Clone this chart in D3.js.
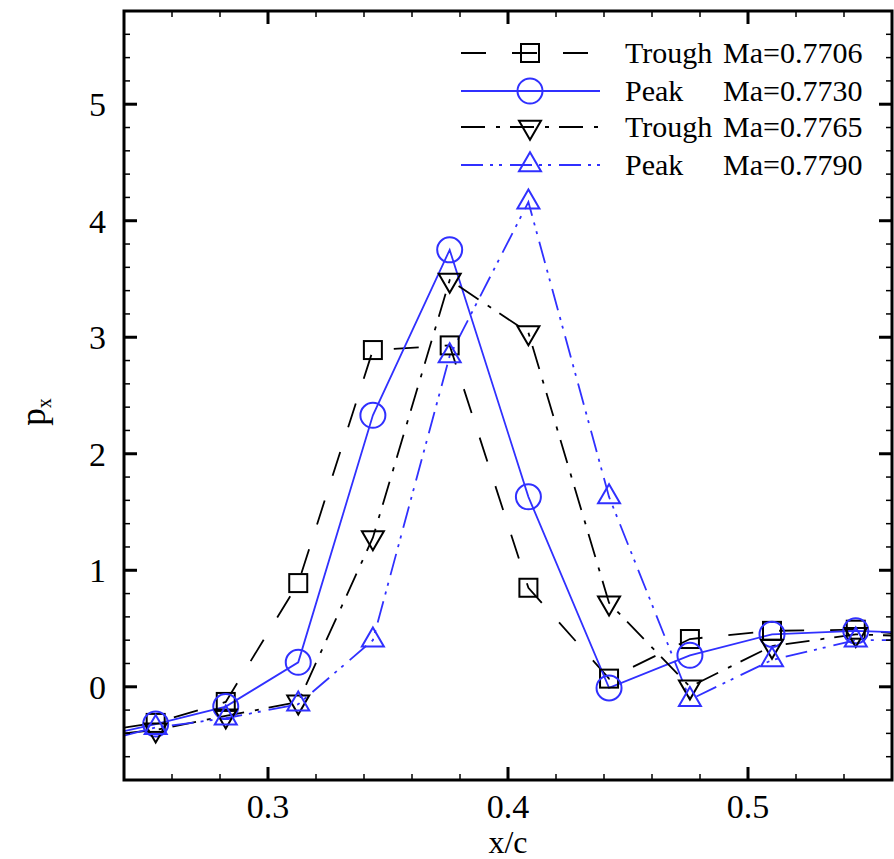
<!DOCTYPE html>
<html><head><meta charset="utf-8">
<script src="https://cdn.jsdelivr.net/npm/d3@7"></script>
<style>body{margin:0;background:#fff} svg text{font-family:"Liberation Serif","DejaVu Serif","Times New Roman",Times,serif;}</style>
</head><body>
<svg id="chart" width="894" height="859"></svg>
<script>
// ---- data ----
const xMarkers = [0.2532, 0.2824, 0.3126, 0.3437, 0.3757, 0.4085, 0.4421, 0.4758, 0.5100, 0.5449];
const trough7706 = [-0.31, -0.13, 0.89, 2.89, 2.93, 0.85, 0.07, 0.41, 0.48, 0.49];
const peak7730   = [-0.32, -0.17, 0.21, 2.33, 3.75, 1.63, -0.01, 0.27, 0.45, 0.48];
const trough7765 = [-0.37, -0.25, -0.13, 1.28, 3.49, 3.04, 0.72, 0.00, 0.35, 0.45];
const peak7790   = [-0.35, -0.27, -0.15, 0.40, 2.84, 4.16, 1.63, -0.11, 0.23, 0.40];
// line end values at the plot edges (x = 0.24 and x = 0.56)
const edgeX = [0.24, 0.56];
const edge7706 = [-0.35, 0.46];
const edge7730 = [-0.38, 0.47];
const edge7765 = [-0.40, 0.44];
const edge7790 = [-0.42, 0.40];
const xTicks = [0.3, 0.4, 0.5];
const yTicks = [0, 1, 2, 3, 4, 5];
const seriesNames = ["Trough", "Peak", "Trough", "Peak"];
const seriesMa = ["Ma=0.7706", "Ma=0.7730", "Ma=0.7765", "Ma=0.7790"];

const BLUE = "#3030ff";
const series = [
  {vals: trough7706, edge: edge7706, color: "#000", dash: "25,26", sym: "square"},
  {vals: peak7730,   edge: edge7730, color: BLUE,   dash: null,    sym: "circle"},
  {vals: trough7765, edge: edge7765, color: "#000", dash: "24,11,4,10", sym: "tdown"},
  {vals: peak7790,   edge: edge7790, color: BLUE,   dash: "22,7,3,6,3,8", sym: "tup"}
];

const svg = d3.select("#chart");
const L = 124, R = 892, T = 11, B = 780;
const x = d3.scaleLinear().domain([0.24, 0.56]).range([L, R]);
const y = d3.scaleLinear().domain([-0.8, 5.8]).range([B, T]);

svg.append("defs").append("clipPath").attr("id", "clip")
  .append("rect").attr("x", L).attr("y", T).attr("width", R - L).attr("height", B - T);

// lines
const line = d3.line().x(d => x(d[0])).y(d => y(d[1]));
const gLines = svg.append("g").attr("clip-path", "url(#clip)");
series.forEach(s => {
  const pts = [[edgeX[0], s.edge[0]], ...xMarkers.map((xv, i) => [xv, s.vals[i]]), [edgeX[1], s.edge[1]]];
  gLines.append("path").attr("d", line(pts)).attr("fill", "none")
    .attr("stroke", s.color).attr("stroke-width", 1.8)
    .attr("stroke-dasharray", s.dash);
});

function drawSym(g, sym, cx, cy, color) {
  if (sym === "square") {
    g.append("rect").attr("x", cx - 9).attr("y", cy - 9).attr("width", 18).attr("height", 18)
      .attr("fill", "none").attr("stroke", color).attr("stroke-width", 2);
  } else if (sym === "circle") {
    g.append("circle").attr("cx", cx).attr("cy", cy).attr("r", 12.5)
      .attr("fill", "none").attr("stroke", color).attr("stroke-width", 2);
  } else if (sym === "tdown") {
    const h = 19, w = 22;
    g.append("path").attr("d", `M${cx - w/2},${cy - h/3}L${cx + w/2},${cy - h/3}L${cx},${cy + 2*h/3}Z`)
      .attr("fill", "none").attr("stroke", color).attr("stroke-width", 2);
  } else {
    const h = 19, w = 22;
    g.append("path").attr("d", `M${cx - w/2},${cy + h/3}L${cx + w/2},${cy + h/3}L${cx},${cy - 2*h/3}Z`)
      .attr("fill", "none").attr("stroke", color).attr("stroke-width", 2);
  }
}

// markers
const gM = svg.append("g").attr("clip-path", "url(#clip)");
series.forEach(s => {
  xMarkers.forEach((xv, i) => drawSym(gM, s.sym, x(xv), y(s.vals[i]), s.color));
});

// ticks on all four sides
const gT = svg.append("g").attr("stroke", "#000");
const xMinor = d3.range(0.24, 0.5601, 0.02).map(v => +v.toFixed(3));
xMinor.forEach(v => {
  const major = xTicks.some(t => Math.abs(t - v) < 1e-6);
  const len = major ? 13 : 6, w = major ? 3 : 1.5;
  gT.append("line").attr("x1", x(v)).attr("x2", x(v)).attr("y1", B).attr("y2", B - len).attr("stroke-width", w);
  gT.append("line").attr("x1", x(v)).attr("x2", x(v)).attr("y1", T).attr("y2", T + len).attr("stroke-width", w);
});
const yMinor = d3.range(-0.8, 5.8001, 0.2).map(v => +v.toFixed(3));
yMinor.forEach(v => {
  const major = yTicks.some(t => Math.abs(t - v) < 1e-6);
  const len = major ? 13 : 6, w = major ? 3 : 1.5;
  gT.append("line").attr("y1", y(v)).attr("y2", y(v)).attr("x1", L).attr("x2", L + len).attr("stroke-width", w);
  gT.append("line").attr("y1", y(v)).attr("y2", y(v)).attr("x1", R).attr("x2", R - len).attr("stroke-width", w);
});

// frame
svg.append("rect").attr("x", L).attr("y", T).attr("width", R - L).attr("height", B - T)
  .attr("fill", "none").attr("stroke", "#000").attr("stroke-width", 3);

// tick labels
svg.append("g").selectAll("text").data(xTicks).join("text")
  .attr("x", d => x(d)).attr("y", 818).attr("text-anchor", "middle")
  .attr("font-size", 34).text(d => d.toFixed(1));
svg.append("g").selectAll("text").data(yTicks).join("text")
  .attr("x", 106).attr("y", d => y(d) + 12).attr("text-anchor", "end")
  .attr("font-size", 34).text(d => d);

// axis titles
svg.append("text").attr("x", (L + R) / 2).attr("y", 853).attr("text-anchor", "middle")
  .attr("font-size", 32).text("x/c");
const yt = svg.append("text").attr("transform", "translate(45,412) rotate(-90)")
  .attr("text-anchor", "middle").attr("font-size", 35);
yt.append("tspan").text("p");
yt.append("tspan").attr("font-size", 20).attr("dy", 6).text("x");

// legend
const legY = [53, 91, 127, 165];
const gL = svg.append("g");
series.forEach((s, i) => {
  gL.append("line").attr("x1", 461).attr("x2", 600).attr("y1", legY[i]).attr("y2", legY[i])
    .attr("stroke", s.color).attr("stroke-width", 1.8).attr("stroke-dasharray", s.dash);
  drawSym(gL, s.sym, 530, legY[i], s.color);
  gL.append("text").attr("x", 625).attr("y", legY[i] + 10)
    .attr("font-size", 30).text(seriesNames[i]);
  gL.append("text").attr("x", 723).attr("y", legY[i] + 10)
    .attr("font-size", 30).text(seriesMa[i]);
});
</script>
</body></html>
